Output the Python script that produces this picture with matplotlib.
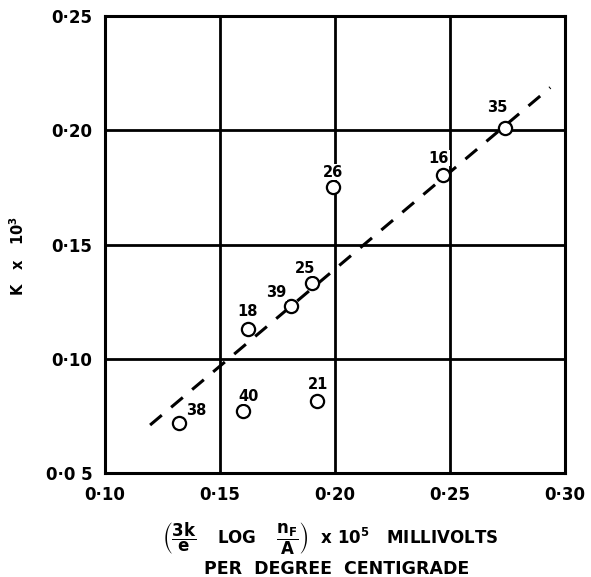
import matplotlib
matplotlib.use('Agg')
import matplotlib.pyplot as plt

# Data
run_ids = ['38', '40', '21', '18', '39', '25', '26', '16', '35']
x_vals = [0.132, 0.160, 0.192, 0.162, 0.181, 0.190, 0.199, 0.247, 0.274]
y_vals = [0.072, 0.077, 0.0815, 0.113, 0.123, 0.133, 0.175, 0.1805, 0.201]

fit_x = [0.1196, 0.2936]
fit_y = [0.071, 0.2187]

x_ticks = [0.10, 0.15, 0.20, 0.25, 0.30]
x_tick_labels = ['0·10', '0·15', '0·20', '0·25', '0·30']
y_ticks = [0.05, 0.10, 0.15, 0.20, 0.25]
y_tick_labels = ['0·0 5', '0·10', '0·15', '0·20', '0·25']

# label offsets (points) for each run number
label_offsets = {
    '38': (13, 9), '40': (4, 11), '21': (1, 12), '18': (0, 13), '39': (-11, 10),
    '25': (-5, 11), '26': (0, 11), '16': (-3, 12), '35': (-6, 15),
}

fig = plt.figure(figsize=(5.91, 5.77), dpi=100)
ax = fig.add_axes([0.1777, 0.1802, 0.7783, 0.7921])

ax.set_xlim(0.10, 0.30)
ax.set_ylim(0.05, 0.25)

# heavy grid
for gx in x_ticks[1:-1]:
    ax.axvline(gx, color='black', lw=2.0, zorder=1)
for gy in y_ticks[1:-1]:
    ax.axhline(gy, color='black', lw=2.0, zorder=1)

ax.plot(fit_x, fit_y, color='black', lw=2.2, dashes=(5, 4), zorder=2)

ax.plot(x_vals, y_vals, 'o', ms=9.5, mfc='white', mec='black', mew=1.6,
        zorder=3, linestyle='none')

for rid, xv, yv in zip(run_ids, x_vals, y_vals):
    ax.annotate(rid, (xv, yv), xytext=label_offsets[rid], textcoords='offset points',
                ha='center', va='center', fontsize=10.5, fontweight='bold',
                bbox=dict(boxstyle='square,pad=0.05', fc='white', ec='none'),
                zorder=4)

for s in ax.spines.values():
    s.set_linewidth(2.2)

ax.set_xticks(x_ticks)
ax.set_xticklabels(x_tick_labels, fontsize=12, fontweight='bold')
ax.set_yticks(y_ticks)
ax.set_yticklabels(y_tick_labels, fontsize=12, fontweight='bold')
ax.tick_params(length=0, pad=9)

fig.text(0.03, 0.556, r'K   x   10$^{\mathbf{3}}$', rotation=90, ha='center', va='center',
         fontsize=10.5, fontweight='bold')

fig.text(0.559, 0.066,
         r'$\left(\dfrac{\mathbf{3k}}{\mathbf{e}}\quad\;\mathbf{LOG}\quad\;\dfrac{\mathbf{n_F}}{\mathbf{A}}\right)$'
         r'  x 10$^{\mathbf{5}}$   MILLIVOLTS',
         ha='center', va='center', fontsize=12, fontweight='bold')
fig.text(0.570, 0.014, 'PER  DEGREE  CENTIGRADE', ha='center', va='center',
         fontsize=12.5, fontweight='bold')

fig.savefig('out.png', dpi=100)
